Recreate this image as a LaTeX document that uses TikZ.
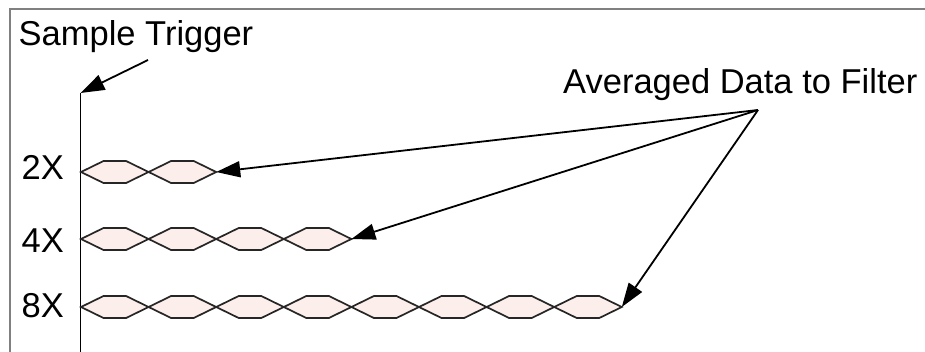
\documentclass[tikz,border=0pt]{standalone}
\usepackage{fontspec}
\setmainfont{Liberation Sans}
\usetikzlibrary{arrows.meta}
\definecolor{cellfill}{RGB}{252,238,235}
\definecolor{framegray}{RGB}{128,128,128}
\tikzset{
  label/.style={inner sep=0pt, anchor=base west, font=\fontsize{34.5}{40}\selectfont},
  cell/.style={draw=black!85, fill=cellfill, line width=1.7pt, line join=miter},
  pointer/.style={line width=1.8pt, -{Triangle[length=24pt,width=16pt]}},
}
\newcommand{\hexrow}[3]{%
  % #1 = row centre y, #2 = number of cells, #3 = end coordinate name
  \foreach \k in {1,...,#2}{
    \pgfmathsetmacro{\xa}{81+(\k-1)*67.6}
    \draw[cell] (\xa,#1) -- ++(22.5,-11) -- ++(22.6,0) -- ++(22.5,11)
      -- ++(-22.5,11) -- ++(-22.6,0) -- cycle;
  }
  \coordinate (#3) at ({81+#2*67.6},#1);
}
\begin{document}
\begin{tikzpicture}[x=1pt,y=-1pt]
  \useasboundingbox (0,0) rectangle (925,351);
  \clip (0,0) rectangle (925,351);
  \fill[white] (0,0) rectangle (925,351);
  % outer frame, only its top and left sides fall inside the page
  \draw[framegray, line width=2pt] (10,9) rectangle (980,420);

  % labels
  \node[label] (trig) at (18.5,45) {Sample Trigger};
  \node[label] (avg) at (563,93) {Averaged Data to Filter};
  \node[label] (l2) at (21.5,179) {2X};
  \node[label] (l4) at (21.5,252) {4X};
  \node[label] (l8) at (21.5,317) {8X};

  % time axis
  \coordinate (axtop) at (80.5,93);
  \coordinate (axbot) at (80.5,360);
  \draw[line width=1.8pt] (axtop) -- (axbot);

  % averaged sample cells
  \hexrow{172}{2}{e2}
  \hexrow{239}{4}{e4}
  \hexrow{307}{8}{e8}

  % pointers
  \coordinate (trigfrom) at (148,60);
  \draw[pointer] (trigfrom) -- (axtop);
  \coordinate (src) at (758,110);
  \draw[pointer] (src) -- (e2);
  \draw[pointer] (src) -- (e4);
  \draw[pointer] (src) -- (e8);
\end{tikzpicture}
\end{document}
